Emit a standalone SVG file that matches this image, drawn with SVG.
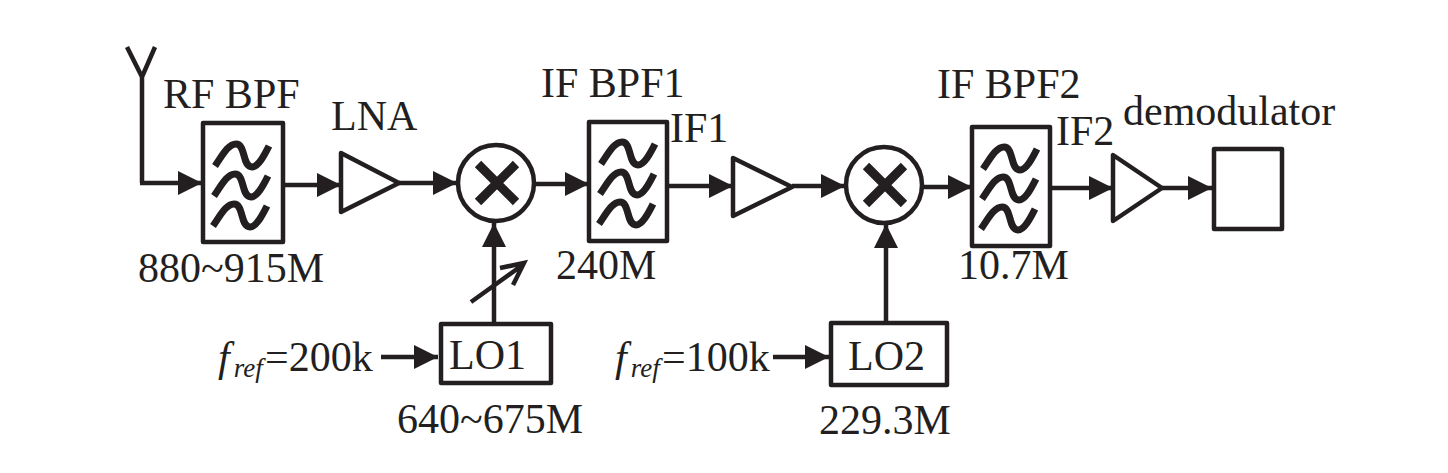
<svg xmlns="http://www.w3.org/2000/svg" width="1448" height="473" viewBox="0 0 1448 473">
<style>
text{font-family:"Liberation Serif","Times New Roman",serif;font-size:42px;fill:#231f20}
.b{fill:#fff;stroke:#231f20;stroke-width:4.5;stroke-linejoin:round}
.c{fill:none;stroke:#231f20;stroke-width:4.5;stroke-linejoin:miter}
.s{fill:none;stroke:#231f20;stroke-width:7;stroke-linecap:butt;stroke-linejoin:round}
.x{fill:none;stroke:#231f20;stroke-width:9}
</style>
<defs>
<marker id="a" markerUnits="userSpaceOnUse" markerWidth="26" markerHeight="26" refX="24" refY="13" orient="auto"><path d="M0 1L24 13L0 25Z" fill="#231f20"/></marker>
<path id="w" class="s" d="M215 166C222 156 228 144 236 144C246 144 242 167 252 167C258 167 264 156 269 146"/>
<g id="flt"><use href="#w"/><use href="#w" x="-1" y="30"/><use href="#w" x="-2" y="60"/></g>
<g id="mx"><path class="x" d="M-19 -19L19 19M-19 19L19 -19"/></g>
</defs>
<g id="connectors">
<path class="c" d="M127 47L142 77L155 47M142 77V183"/>
<path class="c" d="M140 183H202" marker-end="url(#a)"/>
<path class="c" d="M283 185H341" marker-end="url(#a)"/>
<path class="c" d="M399 183H457" marker-end="url(#a)"/>
<path class="c" d="M535 184H589" marker-end="url(#a)"/>
<path class="c" d="M667 186H733" marker-end="url(#a)"/>
<path class="c" d="M792 186H845" marker-end="url(#a)"/>
<path class="c" d="M923 187H972" marker-end="url(#a)"/>
<path class="c" d="M1050 188H1113" marker-end="url(#a)"/>
<path class="c" d="M1162 188H1212" marker-end="url(#a)"/>
<path class="c" d="M494 324V223" marker-end="url(#a)"/>
<path class="c" d="M471 302L524 264M500 268L524 263L513 285"/>
<path class="c" d="M886 322V224" marker-end="url(#a)"/>
<path class="c" d="M381 357H438" marker-end="url(#a)"/>
<path class="c" d="M773 357H829" marker-end="url(#a)"/>
</g>
<g id="rf-bpf"><rect class="b" x="203" y="123" width="80" height="119"/><use href="#flt"/><text x="163" y="108">RF BPF</text><text x="138" y="282">880~915M</text></g>
<g id="lna"><path class="b" d="M341 153V212L399 183Z"/><text x="331" y="130">LNA</text></g>
<g id="mixer1"><circle class="b" cx="496" cy="183" r="38"/><use href="#mx" x="497" y="183"/></g>
<g id="if-bpf1"><rect class="b" x="589" y="122" width="78" height="119"/><use href="#flt" x="386" y="-2"/><text x="541" y="97">IF BPF1</text><text x="670" y="142">IF1</text><text x="556" y="279">240M</text></g>
<g id="amp2"><path class="b" d="M733 158V216L792 187Z"/></g>
<g id="mixer2"><circle class="b" cx="884" cy="185" r="38"/><use href="#mx" x="885" y="185"/></g>
<g id="if-bpf2"><rect class="b" x="972" y="127" width="78" height="119"/><use href="#flt" x="768" y="3"/><text x="937" y="98">IF BPF2</text><text x="1056" y="145">IF2</text><text x="958" y="279">10.7M</text></g>
<g id="amp3"><path class="b" d="M1113 155V221L1162 188Z"/></g>
<g id="demodulator"><rect class="b" x="1214" y="149" width="68" height="80"/><text x="1123" y="125">demodulator</text></g>
<g id="lo1"><rect class="b" x="441" y="324" width="110" height="59"/><text x="449" y="369">LO1</text><text x="397" y="433">640~675M</text><text x="218" y="371" style="font-style:italic">f<tspan font-size="27" dx="4" dy="6">ref</tspan></text><text x="265" y="371">=200k</text></g>
<g id="lo2"><rect class="b" x="831" y="323" width="116" height="62"/><text x="848" y="370">LO2</text><text x="819" y="434">229.3M</text><text x="615" y="371" style="font-style:italic">f<tspan font-size="27" dx="4" dy="6">ref</tspan></text><text x="662" y="371">=100k</text></g>
</svg>
